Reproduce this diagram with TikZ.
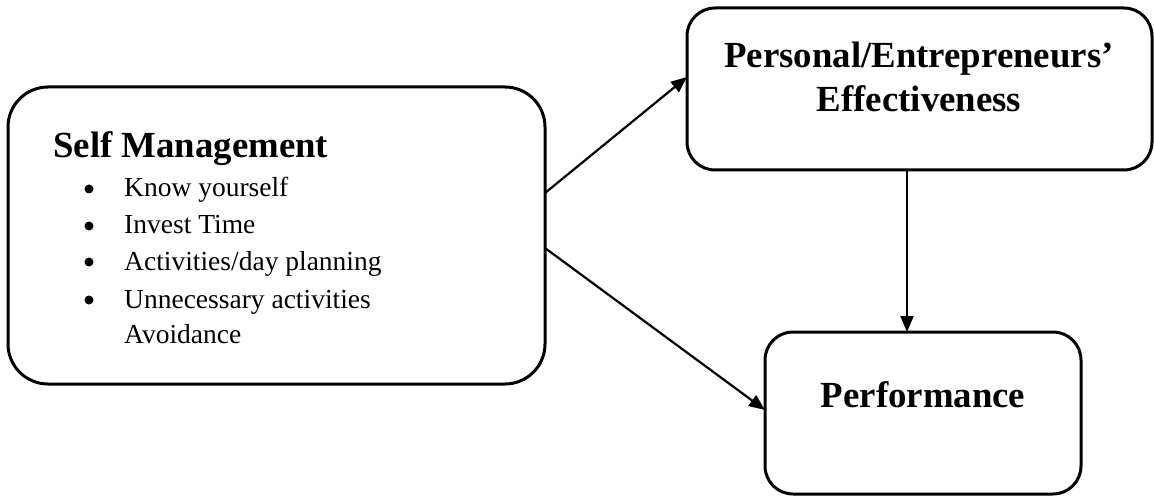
\documentclass[tikz,border=0pt]{standalone}
\usepackage{fontspec}
\setmainfont{Liberation Serif}
\usetikzlibrary{arrows.meta}
\tikzset{
  box/.style={draw, line width=3pt, inner sep=0pt, outer sep=0pt},
  conn/.style={line width=2.2pt, -{Triangle[length=16pt,width=13pt]}},
  boldtxt/.style={font=\fontsize{36.8}{43}\selectfont\bfseries, anchor=base, inner sep=0pt},
  itemtxt/.style={font=\fontsize{27.5}{36}\selectfont, anchor=base west, inner sep=0pt},
  bul/.style={circle, fill, inner sep=0pt, minimum size=9pt}
}
\begin{document}
\begin{tikzpicture}[x=1pt,y=-1pt]
\useasboundingbox (0,0) rectangle (1154,497);
% boxes
\node[box, rounded corners=40pt, minimum width=537pt, minimum height=297pt] (sm) at (276.5,235.5) {};
\node[box, rounded corners=28pt, minimum width=465pt, minimum height=162pt] (pe) at (919.5,89) {};
\node[box, rounded corners=28pt, minimum width=316pt, minimum height=162pt] (perf) at (923,413) {};
% texts
\node[boldtxt, anchor=base west] (smt) at (53,158) {Self Management};
\node[bul] (b1) at (89,189) {};
\node[itemtxt] (i1) at (124,197) {Know yourself};
\node[bul] (b2) at (89,226) {};
\node[itemtxt] (i2) at (124,234) {Invest Time};
\node[bul] (b3) at (89,262) {};
\node[itemtxt] (i3) at (124,270) {Activities/day planning};
\node[bul] (b4) at (89,300) {};
\node[itemtxt] (i4) at (124,308) {Unnecessary activities};
\node[itemtxt] (i5) at (124,343) {Avoidance};
\node[boldtxt] (pet1) at (919,68) {Personal/Entrepreneurs’};
\node[boldtxt] (pet2) at (919,112) {Effectiveness};
\node[boldtxt] (perft) at (923,407) {Performance};
% connectors
\draw[conn] ([yshift=42.5pt]sm.east) -- ([yshift=12pt]pe.west);
\draw[conn] ([yshift=-12.5pt]sm.east) -- ([yshift=3pt]perf.west);
\draw[conn] ([xshift=-12.5pt]pe.south) -- ([xshift=-16pt]perf.north);
\end{tikzpicture}
\end{document}
